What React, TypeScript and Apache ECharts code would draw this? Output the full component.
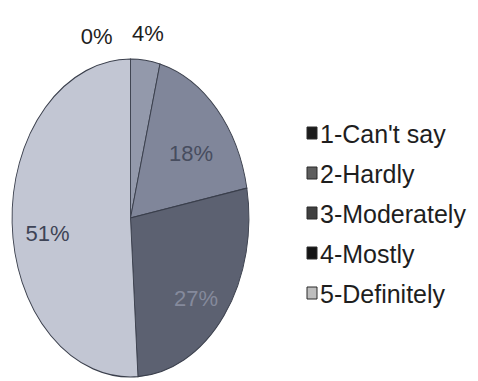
import React, { useEffect, useRef } from "react";
import * as echarts from "echarts";

const categories = ["1-Can't say", "2-Hardly", "3-Moderately", "4-Mostly", "5-Definitely"];
const values = [0, 4, 18, 27, 51];
const sliceColors = ["#222222", "#9399ab", "#80869a", "#5c6171", "#c2c6d3"];
const labelColors = ["#1e1e1e", "#1e1e1e", "#474d5f", "#858a9c", "#3e4456"];
const legendColors = ["#1c1c1c", "#5e5e5e", "#404040", "#141414", "#bdbdbd"];

export default function App() {
  const ref = useRef<HTMLDivElement>(null);
  useEffect(() => {
    if (!ref.current) return;
    const chart = echarts.init(ref.current, undefined, { renderer: "svg" });
    const total = values.reduce((a, b) => a + b, 0);
    const cx = 130.5;
    const cy = 218;
    const rx = 118.5;
    const ry = 159;
    const starts: number[] = [];
    let acc = 0;
    values.forEach((v) => {
      starts.push(acc);
      acc += v;
    });
    const font = "Liberation Sans, Arial, sans-serif";

    const legendGraphics: any[] = categories.map((c, i) => ({
      type: "group",
      x: 307,
      y: 133 + i * 40,
      children: [
        {
          type: "rect",
          shape: { x: 0, y: -6, width: 10, height: 12 },
          style: { fill: legendColors[i], stroke: "#2a2a2a", lineWidth: 1 },
        },
        {
          type: "text",
          x: 13,
          y: 1,
          style: {
            text: c,
            fill: "#1e1e1e",
            fontSize: 25,
            fontFamily: font,
            align: "left",
            verticalAlign: "middle",
          },
        },
      ],
    }));

    chart.setOption({
      animation: false,
      backgroundColor: "#ffffff",
      graphic: legendGraphics,
      series: [
        {
          type: "custom",
          coordinateSystem: "none",
          data: values.map((v, i) => ({ value: v, name: categories[i] })),
          renderItem: (params: any, api: any) => {
            const i = params.dataIndex;
            const v = api.value(0);
            const a0 = (starts[i] / total) * Math.PI * 2 - Math.PI / 2;
            const a1 = ((starts[i] + v) / total) * Math.PI * 2 - Math.PI / 2;
            const mid = (a0 + a1) / 2;
            const outside = v < 5;
            const f = outside ? 1.17 : 0.7;
            let lx = cx + rx * f * Math.cos(mid);
            let ly = (outside ? cy : cy + 12) + ry * f * Math.sin(mid);
            let align = "center";
            if (v === 0) {
              align = "right";
              lx -= 18;
              ly += 5;
            }
            return {
              type: "group",
              children: [
                {
                  type: "sector",
                  x: cx,
                  y: cy,
                  scaleX: rx / ry,
                  shape: { cx: 0, cy: 0, r: ry, r0: 0, startAngle: a0, endAngle: a1, clockwise: true },
                  style: {
                    fill: sliceColors[i],
                    stroke: "#3a3f4c",
                    lineWidth: 1.2,
                    strokeNoScale: true,
                  },
                },
                {
                  type: "text",
                  x: lx,
                  y: ly,
                  style: {
                    text: Math.round((v / total) * 100) + "%",
                    fill: labelColors[i],
                    fontSize: 22,
                    fontFamily: font,
                    align,
                    verticalAlign: "middle",
                  },
                },
              ],
            };
          },
        },
      ],
    });
    return () => chart.dispose();
  }, []);
  return (
    <div
      ref={ref}
      style={{ position: "fixed", left: 0, top: 0, width: 478, height: 381, background: "#fff" }}
    />
  );
}
